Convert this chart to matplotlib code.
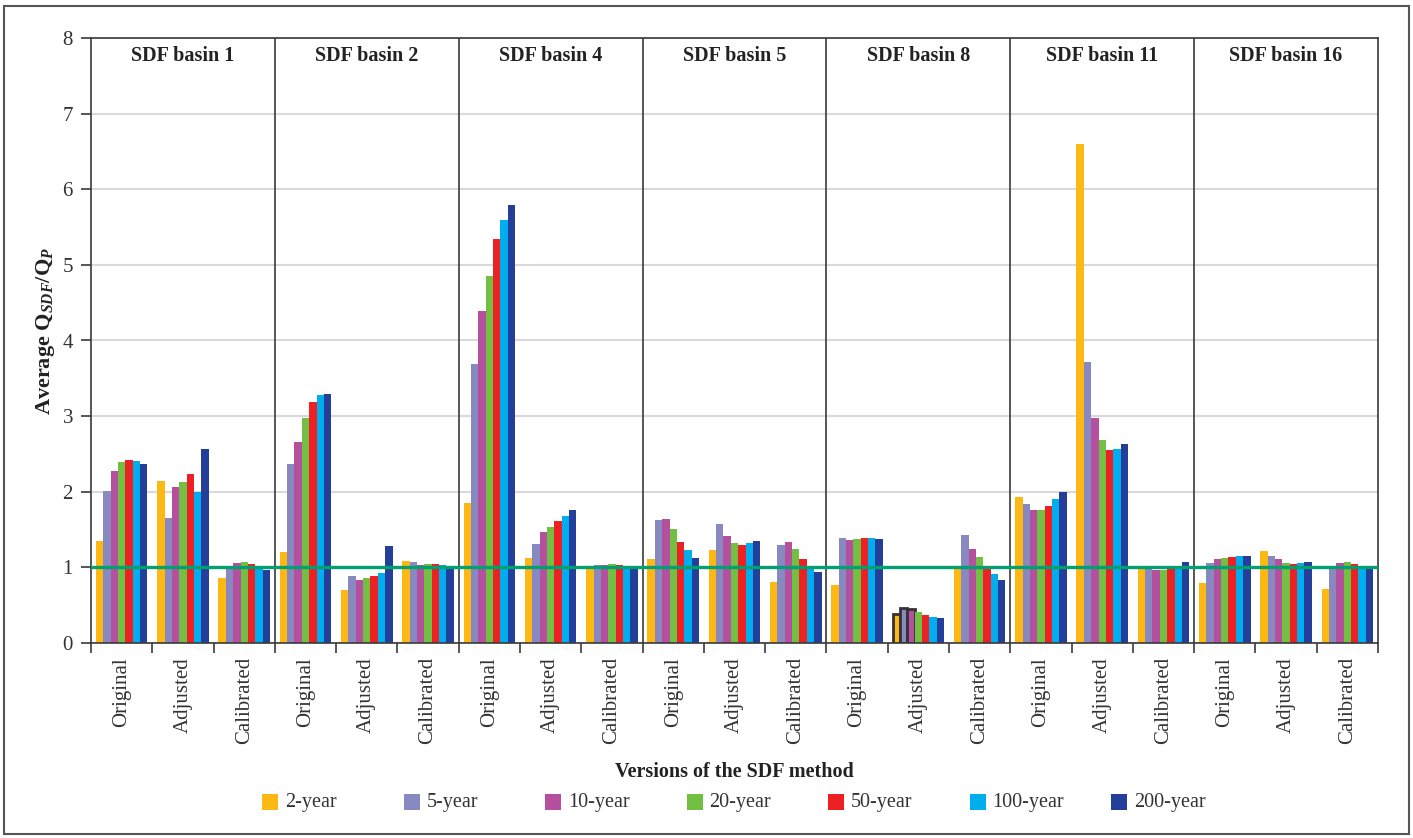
import matplotlib
matplotlib.use("Agg")
import matplotlib.pyplot as plt
from matplotlib.patches import Rectangle
import numpy as np

plt.rcParams['font.family'] = ['Liberation Serif', 'DejaVu Serif']
plt.rcParams['mathtext.fontset'] = 'custom'
plt.rcParams['mathtext.rm'] = 'Liberation Serif:bold'
plt.rcParams['mathtext.it'] = 'Liberation Serif:italic:bold'
plt.rcParams['mathtext.bf'] = 'Liberation Serif:bold'

basins = ["SDF basin 1", "SDF basin 2", "SDF basin 4", "SDF basin 5",
          "SDF basin 8", "SDF basin 11", "SDF basin 16"]
versions = ["Original", "Adjusted", "Calibrated"]
series_names = ["2-year", "5-year", "10-year", "20-year", "50-year", "100-year", "200-year"]

y2 = [1.35, 2.14, 0.86, 1.20, 0.70, 1.08, 1.85, 1.12, 1.00, 1.11, 1.23, 0.81, 0.77, 0.38, 1.00, 1.93, 6.60, 1.00, 0.79, 1.22, 0.71]
y5 = [2.01, 1.65, 1.00, 2.37, 0.89, 1.07, 3.69, 1.31, 1.03, 1.63, 1.57, 1.30, 1.39, 0.46, 1.43, 1.84, 3.72, 1.00, 1.06, 1.15, 1.00]
y10 = [2.27, 2.06, 1.06, 2.66, 0.83, 1.03, 4.39, 1.47, 1.03, 1.64, 1.42, 1.34, 1.36, 0.45, 1.24, 1.76, 2.98, 0.97, 1.11, 1.11, 1.06]
y20 = [2.39, 2.13, 1.07, 2.98, 0.86, 1.05, 4.85, 1.53, 1.04, 1.51, 1.32, 1.24, 1.37, 0.41, 1.14, 1.76, 2.69, 0.97, 1.12, 1.06, 1.07]
y50 = [2.42, 2.23, 1.04, 3.19, 0.89, 1.05, 5.34, 1.61, 1.03, 1.34, 1.30, 1.11, 1.39, 0.37, 0.99, 1.81, 2.55, 0.98, 1.14, 1.04, 1.04]
y100 = [2.41, 2.00, 1.00, 3.28, 0.93, 1.03, 5.59, 1.68, 1.00, 1.23, 1.32, 0.99, 1.39, 0.34, 0.91, 1.90, 2.57, 1.00, 1.15, 1.06, 1.00]
y200 = [2.37, 2.57, 0.96, 3.29, 1.28, 0.99, 5.79, 1.76, 0.99, 1.12, 1.35, 0.94, 1.37, 0.33, 0.83, 2.00, 2.63, 1.07, 1.15, 1.07, 0.99]

colors = ["#FDB813", "#8789C0", "#B5509E", "#72BF44", "#ED2024", "#00AEEF", "#233F99"]
series = [y2, y5, y10, y20, y50, y100, y200]

# bars highlighted with an outline (basin 8, Adjusted; first three series)
outlined = {(13, 0), (13, 1), (13, 2)}

W, H = 1413, 838
fig = plt.figure(figsize=(W / 100, H / 100), dpi=100)
ax = fig.add_axes([91 / W, 1 - 643 / H, (1378 - 91) / W, (643 - 38) / H])

dark = "#3a3a3a"
ncat = len(basins) * len(versions)
x = np.arange(ncat)
bw = 0.12
for j, (vals, col) in enumerate(zip(series, colors)):
    xs = x + (j - 3) * bw
    bars = ax.bar(xs, vals, width=bw, color=col, zorder=2, linewidth=0)
    for i, b in enumerate(bars):
        if (i, j) in outlined:
            b.set_edgecolor("#333333")
            b.set_linewidth(2.0)

ax.set_xlim(-0.5, ncat - 0.5)
ax.set_ylim(0, 8)
ax.set_yticks(range(0, 9))
ax.yaxis.grid(True, color="#d9d9d9", linewidth=1.5, zorder=0)
ax.set_axisbelow(True)

# reference line
ax.axhline(1.0, color="#00A070", linewidth=2.4, zorder=4)

# basin separators and titles
for k in range(1, len(basins)):
    ax.axvline(k * 3 - 0.5, color=dark, linewidth=1.2, zorder=3)
for k, name in enumerate(basins):
    ax.text(k * 3 + 1, 0.97, name, transform=ax.get_xaxis_transform(),
            ha="center", va="center", fontsize=14.5, fontweight="bold", color="#222222")

# x ticks at category boundaries, labels at centers
ax.set_xticks(np.arange(-0.5, ncat, 1.0))
ax.set_xticklabels([])
ax.set_xticks(x, minor=True)
ax.set_xticklabels(versions * len(basins), minor=True, rotation=90, fontsize=15, color="#333333")
ax.tick_params(axis="x", which="major", direction="out", length=7, width=1.2, color=dark)
ax.tick_params(axis="x", which="minor", length=0, pad=10)
ax.tick_params(axis="y", direction="out", length=7, width=1.2, color=dark, labelsize=15,
               labelcolor="#333333", pad=6)
for s in ax.spines.values():
    s.set_color(dark)
    s.set_linewidth(1.2)

# y label
fig.text(46 / W, 1 - 331 / H, r"Average $\mathrm{Q}_{SDF}/\mathrm{Q}_{P}$", rotation=90,
         ha="center", va="center", fontsize=16, fontweight="bold", color="#222222")

# x label
fig.text(734 / W, 1 - 772 / H, "Versions of the SDF method", ha="center", va="center",
         fontsize=14.5, fontweight="bold", color="#222222")

# legend
sq = 16
for i, (name, col) in enumerate(zip(series_names, colors)):
    px = 262 + i * 141.5
    fig.add_artist(Rectangle((px / W, 1 - (802 + sq / 2) / H), sq / W, sq / H,
                             transform=fig.transFigure, facecolor=col, edgecolor="none"))
    fig.text((px + sq + 7) / W, 1 - 802 / H, name, ha="left", va="center",
             fontsize=14.5, color="#333333")

# outer frame
fig.add_artist(Rectangle((4 / W, 1 - 834 / H), (1409 - 4) / W, (834 - 6) / H,
                         transform=fig.transFigure, facecolor="none",
                         edgecolor="#555555", linewidth=1.5))

fig.savefig("out.png", dpi=100)
